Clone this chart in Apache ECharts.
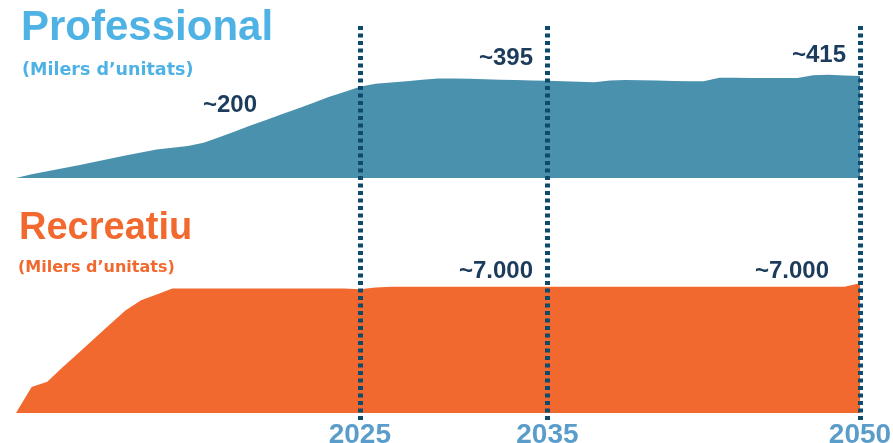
<!DOCTYPE html>
<html>
<head>
<meta charset="utf-8">
<script src="https://cdn.jsdelivr.net/npm/echarts@6/dist/echarts.min.js"></script>
<style>html,body{margin:0;padding:0;background:#fff}#c{width:893px;height:443px}</style>
</head>
<body>
<div id="c"></div>
<script>
// Evenly spaced sample points along the horizontal axis (55 points)
const categories = Array.from({length: 55}, (_, i) => 'p' + i);
// Year tick labels and the sample point each one sits on
const yearLabels = ['2025', '2035', '2050'];
const yearIndex = [22, 34, 54];

// Professional (thousands of units)
const professional = [0, 15, 27, 40, 52, 65, 78, 91, 104, 116, 123, 130, 143, 166, 189, 213, 236, 259, 282, 305, 329, 350, 371, 383, 388, 393, 399, 404, 404, 403, 401, 399, 398, 396, 395, 393, 391, 389, 396, 398, 397, 396, 394, 393, 393, 408, 408, 407, 407, 406, 406, 418, 420, 417, 415];

// Recreatiu (thousands of units)
const recreational = [0, 1450, 1730, 2550, 3340, 4130, 4920, 5700, 6270, 6590, 6910, 6920, 6920, 6920, 6920, 6920, 6920, 6920, 6920, 6920, 6920, 6910, 6880, 6970, 7020, 7020, 7020, 7020, 7020, 7020, 7020, 7020, 7020, 7020, 7020, 7020, 7020, 7020, 7020, 7020, 7020, 7020, 7020, 7020, 7020, 7020, 7020, 7020, 7020, 7020, 7020, 7020, 7020, 7020, 7210];

const annotations = [
  {text: '~200', x: 257, y: 105},
  {text: '~395', x: 533, y: 58},
  {text: '~415', x: 846, y: 55},
  {text: '~7.000', x: 533, y: 271},
  {text: '~7.000', x: 829, y: 271}
];

const FONT = '"Liberation Sans", Arial, sans-serif';
const chart = echarts.init(document.getElementById('c'), null, {renderer: 'canvas'});

const hiddenX = (gi) => ({
  type: 'category', gridIndex: gi, data: categories, boundaryGap: false,
  axisLine: {show: false}, axisTick: {show: false}, axisLabel: {show: false}, splitLine: {show: false}
});
const hiddenY = (gi, max) => ({
  type: 'value', gridIndex: gi, min: 0, max: max, show: false, splitLine: {show: false}
});

chart.setOption({
  animation: false,
  grid: [
    {left: 16, right: 33, top: 55, height: 123, outerBoundsMode: 'none', containLabel: false},
    {left: 16, right: 33, top: 269, height: 144, outerBoundsMode: 'none', containLabel: false},
    {left: 16, right: 33, top: 25, height: 395, outerBoundsMode: 'none', containLabel: false}
  ],
  xAxis: [
    hiddenX(0),
    {
      type: 'category', gridIndex: 1, data: categories, boundaryGap: false,
      axisLine: {show: false}, axisTick: {show: false}, splitLine: {show: false},
      axisLabel: {
        show: true, margin: 8,
        interval: (idx) => yearIndex.indexOf(idx) >= 0,
        formatter: (v, idx) => { const k = yearIndex.indexOf(idx); return k >= 0 ? yearLabels[k] : ''; },
        color: '#5b9dca', fontSize: 28, fontWeight: 'bold', fontFamily: FONT
      }
    },
    hiddenX(2)
  ],
  yAxis: [hiddenY(0, 500), hiddenY(1, 8000), hiddenY(2, 1)],
  series: [
    {
      type: 'line', xAxisIndex: 0, yAxisIndex: 0, data: professional,
      symbol: 'none', lineStyle: {width: 0}, silent: true,
      areaStyle: {color: '#4a91ae', opacity: 1}
    },
    {
      type: 'line', xAxisIndex: 1, yAxisIndex: 1, data: recreational,
      symbol: 'none', lineStyle: {width: 0}, silent: true,
      areaStyle: {color: '#f2692f', opacity: 1}
    },
    {
      type: 'line', xAxisIndex: 2, yAxisIndex: 2, data: [], z: 5,
      markLine: {
        silent: true, symbol: ['none', 'none'], label: {show: false},
        lineStyle: {color: '#0e4a6b', width: 5, type: [4, 3.5], cap: 'butt', opacity: 1},
        data: yearIndex.map(i => ({xAxis: categories[i]}))
      }
    }
  ],
  graphic: [
    {type: 'text', left: 21, top: 7, style: {text: 'Professional', fill: '#4fb2e5', font: 'bold 42px ' + FONT}},
    {type: 'text', left: 22, top: 61, style: {text: '(Milers d\u2019unitats)', fill: '#4fb2e5', font: 'bold 17.5px "DejaVu Sans", sans-serif'}},
    {type: 'text', left: 19, top: 210, style: {text: 'Recreatiu', fill: '#f2692f', font: 'bold 38px ' + FONT}},
    {type: 'text', left: 18, top: 260, style: {text: '(Milers d\u2019unitats)', fill: '#f2692f', font: 'bold 16px "DejaVu Sans", sans-serif'}}
  ].concat(annotations.map(a => ({
    type: 'text', x: a.x, y: a.y,
    style: {text: a.text, fill: '#1d3c5c', font: 'bold 24px ' + FONT, textAlign: 'right', textVerticalAlign: 'middle'}
  })))
});
</script>
</body>
</html>
